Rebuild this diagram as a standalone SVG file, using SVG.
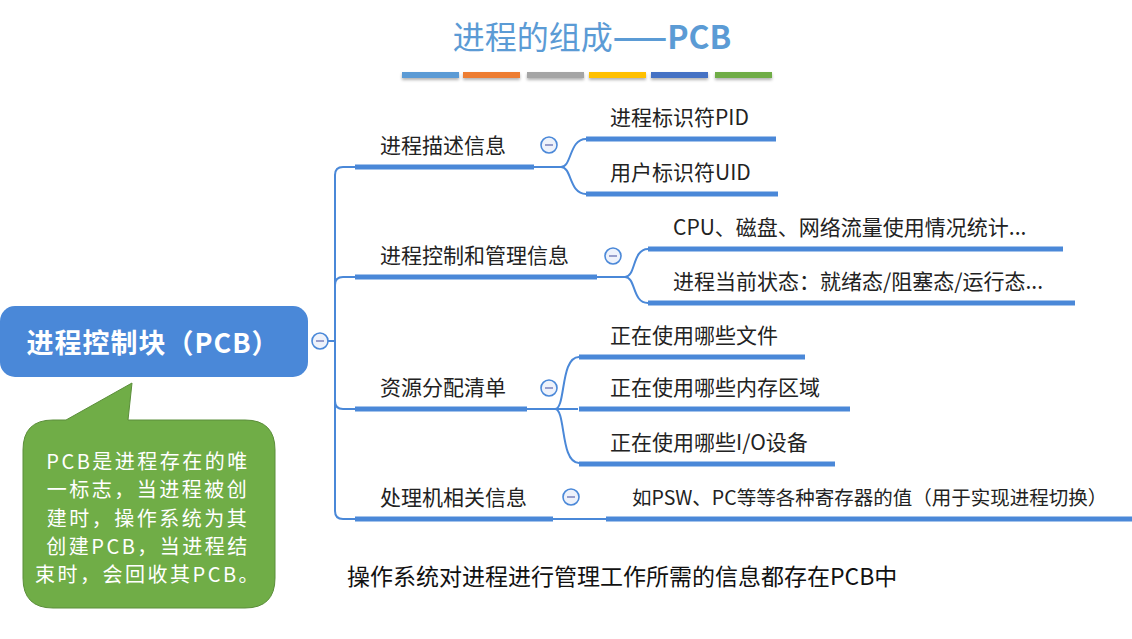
<svg xmlns="http://www.w3.org/2000/svg" width="1132" height="639" viewBox="0 0 1132 639">
<defs>
<style>
.t{font-family:"Noto Sans CJK SC","Noto Sans",sans-serif;font-size:21px;fill:#222}
.ul{stroke:#4a88d8;stroke-width:5;fill:none}
.thin{stroke:#4a88d8;stroke-width:2;fill:none}
.btn circle{fill:#eef2fb;stroke:#4a88d8;stroke-width:1.6}
.btn line{stroke:#8088c0;stroke-width:1.6}
.note{font-family:"Noto Sans CJK SC","Noto Sans",sans-serif;font-size:20px;letter-spacing:2.5px;fill:#ffffff;text-anchor:middle}
</style>
<filter id="sh" x="-10%" y="-50%" width="120%" height="250%">
<feDropShadow dx="0" dy="2" stdDeviation="1.5" flood-color="#000" flood-opacity="0.3"/>
</filter>
</defs>

<g id="title">
<text x="592" y="49" text-anchor="middle" font-family="'Noto Sans CJK SC','Noto Sans',sans-serif" font-size="32" fill="#5b9bd5">进程的组成<tspan font-weight="bold">——PCB</tspan></text>
<g filter="url(#sh)">
<rect x="402" y="72" width="57" height="6" fill="#5b9bd5"/>
<rect x="463" y="72" width="57" height="6" fill="#ed7d31"/>
<rect x="527" y="72" width="57" height="6" fill="#a5a5a5"/>
<rect x="589" y="72" width="57" height="6" fill="#ffc000"/>
<rect x="651" y="72" width="57" height="6" fill="#4472c4"/>
<rect x="715" y="72" width="57" height="6" fill="#70ad47"/>
</g>
</g>

<g id="connectors">
<path class="thin" d="M328,341 H335"/>
<path class="thin" d="M335,341 V175 Q335,167 343,167 H355"/>
<path class="thin" d="M335,341 V285 Q335,277 343,277 H355"/>
<path class="thin" d="M335,341 V401 Q335,409 343,409 H355"/>
<path class="thin" d="M335,341 V511 Q335,519 343,519 H355"/>
<path class="thin" d="M534,167 H561 C572,167 569,139 586,139"/>
<path class="thin" d="M561,167 C572,167 569,194 586,194"/>
<path class="thin" d="M597,277 H625 C636,277 632,249 648,249"/>
<path class="thin" d="M625,277 C636,277 632,303 648,303"/>
<path class="thin" d="M527,409 H578"/>
<path class="thin" d="M555,409 C566,409 560,357 579,357"/>
<path class="thin" d="M555,409 C566,409 560,463 579,463"/>
<path class="thin" d="M553,519 H606"/>
</g>

<g id="root">
<rect x="0" y="306" width="308" height="71" rx="15" fill="#4a88d8"/>
<text x="153" y="353" text-anchor="middle" font-family="'Noto Sans CJK SC','Noto Sans',sans-serif" font-size="27" letter-spacing="1" font-weight="bold" fill="#ffffff">进程控制块（PCB）</text>
<g class="btn"><circle cx="320" cy="341" r="8"/><line x1="316" y1="341" x2="324" y2="341"/></g>
</g>

<g id="callout">
<path d="M53,420 H66 L132,383 L128,420 H245 Q275,420 275,450 V578 Q275,608 245,608 H53 Q23,608 23,578 V450 Q23,420 53,420 Z" fill="#70ad47" stroke="#5b8e3a" stroke-width="1"/>
<text class="note" x="148" y="469">PCB是进程存在的唯</text>
<text class="note" x="148" y="497">一标志，当进程被创</text>
<text class="note" x="148" y="526">建时，操作系统为其</text>
<text class="note" x="148" y="554">创建PCB，当进程结</text>
<text class="note" x="148" y="582">束时，会回收其PCB。</text>
</g>

<g id="n1">
<text class="t" x="380" y="153">进程描述信息</text>
<path class="ul" d="M355,167 H534"/>
<g class="btn"><circle cx="549" cy="145" r="8"/><line x1="545" y1="145" x2="553" y2="145"/></g>
</g>
<g id="n1a"><text class="t" x="610" y="125">进程标识符PID</text><path class="ul" d="M586,139 H776"/></g>
<g id="n1b"><text class="t" x="610" y="180">用户标识符UID</text><path class="ul" d="M586,194 H778"/></g>

<g id="n2">
<text class="t" x="380" y="263">进程控制和管理信息</text>
<path class="ul" d="M355,277 H597"/>
<g class="btn"><circle cx="613" cy="256" r="8"/><line x1="609" y1="256" x2="617" y2="256"/></g>
</g>
<g id="n2a"><text class="t" x="673" y="235">CPU、磁盘、网络流量使用情况统计...</text><path class="ul" d="M648,249 H1063"/></g>
<g id="n2b"><text class="t" x="673" y="289">进程当前状态：就绪态/阻塞态/运行态...</text><path class="ul" d="M648,303 H1075"/></g>

<g id="n3">
<text class="t" x="380" y="395">资源分配清单</text>
<path class="ul" d="M355,409 H527"/>
<g class="btn"><circle cx="549" cy="388" r="8"/><line x1="545" y1="388" x2="553" y2="388"/></g>
</g>
<g id="n3a"><text class="t" x="610" y="343">正在使用哪些文件</text><path class="ul" d="M579,357 H805"/></g>
<g id="n3b"><text class="t" x="610" y="395">正在使用哪些内存区域</text><path class="ul" d="M579,409 H850"/></g>
<g id="n3c"><text class="t" x="610" y="450">正在使用哪些I/O设备</text><path class="ul" d="M579,464 H835"/></g>

<g id="n4">
<text class="t" x="380" y="505">处理机相关信息</text>
<path class="ul" d="M355,519 H553"/>
<g class="btn"><circle cx="571" cy="497" r="8"/><line x1="567" y1="497" x2="575" y2="497"/></g>
</g>
<g id="n4a"><text class="t" x="632" y="505" style="font-size:19.5px">如PSW、PC等等各种寄存器的值（用于实现进程切换）</text><path class="ul" d="M606,519 H1132"/></g>

<g id="caption">
<text x="347" y="585" font-family="'Noto Sans CJK SC','Noto Sans',sans-serif" font-size="23" fill="#111">操作系统对进程进行管理工作所需的信息都存在PCB中</text>
</g>
</svg>
